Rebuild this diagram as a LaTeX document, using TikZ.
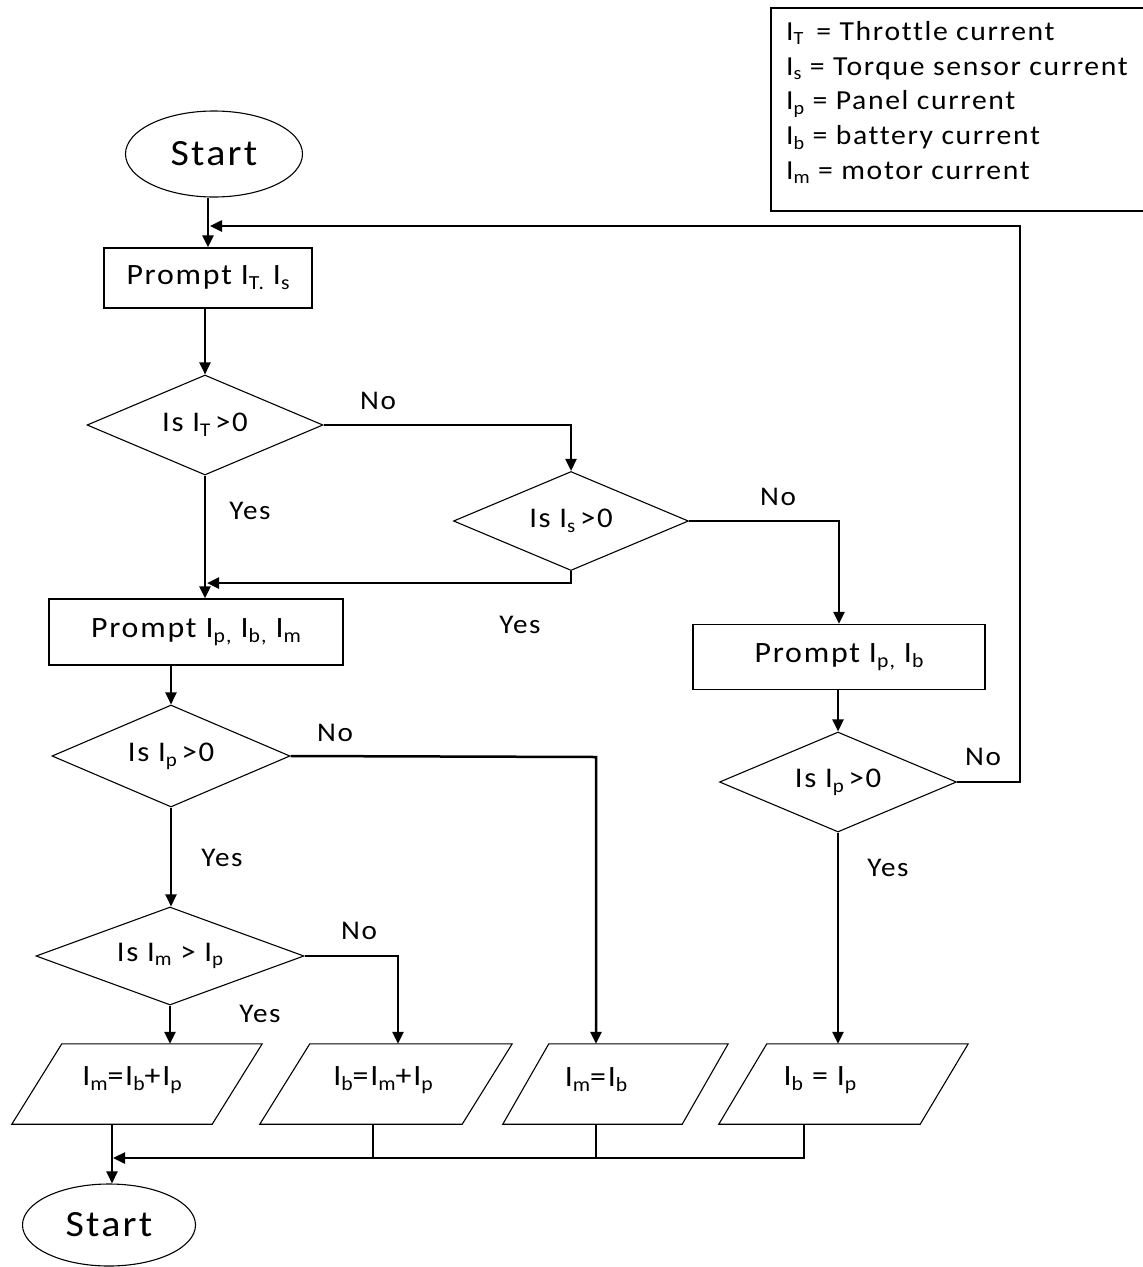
\documentclass[tikz,border=0pt]{standalone}
\usepackage{fontspec}
\usepackage{graphicx}
\setmainfont{Carlito}[FakeStretch=1.08, LetterSpace=6, Ligatures={NoCommon}]
\usetikzlibrary{shapes.geometric,arrows.meta}
\newcommand\lsub[1]{\raisebox{-0.35ex}{\scalebox{0.68}{#1}}}
\newcommand\paraoutline[2]{\draw[line width=1.1pt] ([xshift=#2]#1.north west) -- ([xshift=#2]#1.north east) -- ([xshift=-#2]#1.south east) -- ([xshift=-#2]#1.south west) -- cycle;}
\tikzset{
  box/.style={draw, line width=1.2pt, rectangle, inner sep=0pt, font=\fontsize{29.5}{32}\selectfont},
  dec/.style={draw, line width=1.1pt, diamond, aspect=2.4, inner sep=0pt, font=\fontsize{28.5}{32}\selectfont},
  term/.style={draw, line width=1.1pt, ellipse, inner sep=0pt, font=\fontsize{37}{40}\selectfont},
  para/.style={rectangle, minimum height=80pt, inner sep=0pt},
  ptext/.style={font=\fontsize{29.5}{32}\selectfont, inner sep=0pt},
  lab/.style={font=\fontsize{27}{30}\selectfont, inner sep=0pt},
  legtext/.style={anchor=base west, inner sep=0pt, font=\fontsize{27.5}{30}\selectfont},
  conn/.style={line width=2.5pt},
  arr/.style={conn, -{Triangle[length=12pt,width=11pt]}},
}
\begin{document}
\begin{tikzpicture}[x=1pt,y=-1pt]
\useasboundingbox (0,0) rectangle (1143,1267);
% legend
\draw[line width=1.2pt] (1143,8) -- (771,8) -- (771,211) -- (1143,211);
\node[legtext] (leg1) at (786,40) {I\lsub{T} \,= Throttle current};
\node[legtext] (leg2) at (786,75) {I\lsub{s} = Torque sensor current};
\node[legtext] (leg3) at (786,109.5) {I\lsub{p} = Panel current};
\node[legtext] (leg4) at (786,144.5) {I\lsub{b} = battery current};
\node[legtext] (leg5) at (786,179) {I\lsub{m} = motor current};
% nodes
\node[term, minimum width=177pt, minimum height=86pt] (s1) at (214,154) {Start};
\node[box, minimum width=208pt, minimum height=60pt] (pr1) at (208,278) {Prompt I\lsub{T.} I\lsub{s}};
\node[dec, minimum width=236pt, minimum height=100pt] (d1) at (205,425) {Is I\lsub{T}\,>0};
\node[dec, minimum width=235pt, minimum height=99pt] (d2) at (571,521) {Is I\lsub{s}\,>0};
\node[box, minimum width=294pt, minimum height=66pt] (pr2) at (196,632) {Prompt I\lsub{p,} I\lsub{b,}\ I\lsub{m}};
\node[box, minimum width=292pt, minimum height=65pt] (pr3) at (839,657) {Prompt I\lsub{p,} I\lsub{b}\hspace{42pt}};
\node[dec, minimum width=238pt, minimum height=102pt] (d3) at (171,756) {Is I\lsub{p}\,>0};
\node[dec, minimum width=268pt, minimum height=98pt] (d4) at (170,956) {Is I\lsub{m} > I\lsub{p}};
\node[dec, minimum width=237pt, minimum height=100pt] (d5) at (838,782) {Is I\lsub{p}\,>0};
\node[para, minimum width=200pt] (p1) at (137,1084) {};
\node[para, minimum width=202pt] (p2) at (386,1084) {};
\node[para, minimum width=179pt] (p3) at (615.5,1084) {};
\node[para, minimum width=201pt] (p4) at (843.5,1084) {};
\paraoutline{p1}{25pt}
\paraoutline{p2}{25pt}
\paraoutline{p3}{23pt}
\paraoutline{p4}{24pt}
\node[ptext] (t1) at (132,1080) {I\lsub{m}=I\lsub{b}+I\lsub{p}};
\node[ptext] (t2) at (383,1080) {I\lsub{b}=I\lsub{m}+I\lsub{p}};
\node[ptext] (t3) at (596,1080) {I\lsub{m}=I\lsub{b}};
\node[ptext] (t4) at (820,1080) {I\lsub{b} = I\lsub{p}};
\node[term, minimum width=173pt, minimum height=82pt] (s2) at (109,1225) {Start};
% labels
\node[lab] (n1) at (378,401) {No};
\node[lab] (y1) at (250,511) {Yes};
\node[lab] (n2) at (778,497) {No};
\node[lab] (y2) at (520,625) {Yes};
\node[lab] (n3) at (335,733) {No};
\node[lab] (y3) at (222,858) {Yes};
\node[lab] (n4) at (359,931) {No};
\node[lab] (y4) at (260,1014) {Yes};
\node[lab] (n5) at (983,757) {No};
\node[lab] (y5) at (888,868) {Yes};
% coordinates
\coordinate (lp) at (1020,226);
\coordinate (c3) at (596,757);
\coordinate (c2) at (398,956);
\coordinate (mg) at (804,1158);
\coordinate (mg2) at (373,1158);
% connectors
\draw[arr] (pr1.north |- s1.south) -- (pr1.north);
\draw[arr] (d5.east) -| (lp) -- ([xshift=2pt]lp -| pr1.north);
\draw[arr] (pr1.south -| d1.north) -- (d1.north);
\draw[arr] (d1.east) -| (d2.north);
\draw[arr] (d1.south) -- (d1.south |- pr2.north);
\draw[arr] (d2.south) -- ++(0,12) coordinate (m1) -- ([xshift=2pt]m1 -| d1.south);
\draw[arr] (d2.east) -| (pr3.north);
\draw[arr] (pr2.south -| d3.north) -- (d3.north);
\draw[arr] (d3.east) -- (c3) -- (c3 |- p3.north);
\draw[arr] (d3.south) -- (d3.south |- d4.north);
\draw[arr] (d4.east) -- (c2) -- (c2 |- p2.north);
\draw[arr] (d4.south) -- (d4.south |- p1.north);
\draw[arr] (pr3.south -| d5.north) -- (d5.north);
\draw[arr] (d5.south) -- (d5.south |- p4.north);
\draw[arr] (mg |- p4.south) -- (mg) -- ([xshift=4pt]mg -| s2.north);
\draw[conn] (mg2 |- p2.south) -- (mg2);
\draw[conn] (c3 |- p3.south) -- (c3 |- mg);
\draw[arr] ([xshift=3pt]s2.north |- p1.south) -- ([xshift=3pt]s2.north);
\end{tikzpicture}
\end{document}
